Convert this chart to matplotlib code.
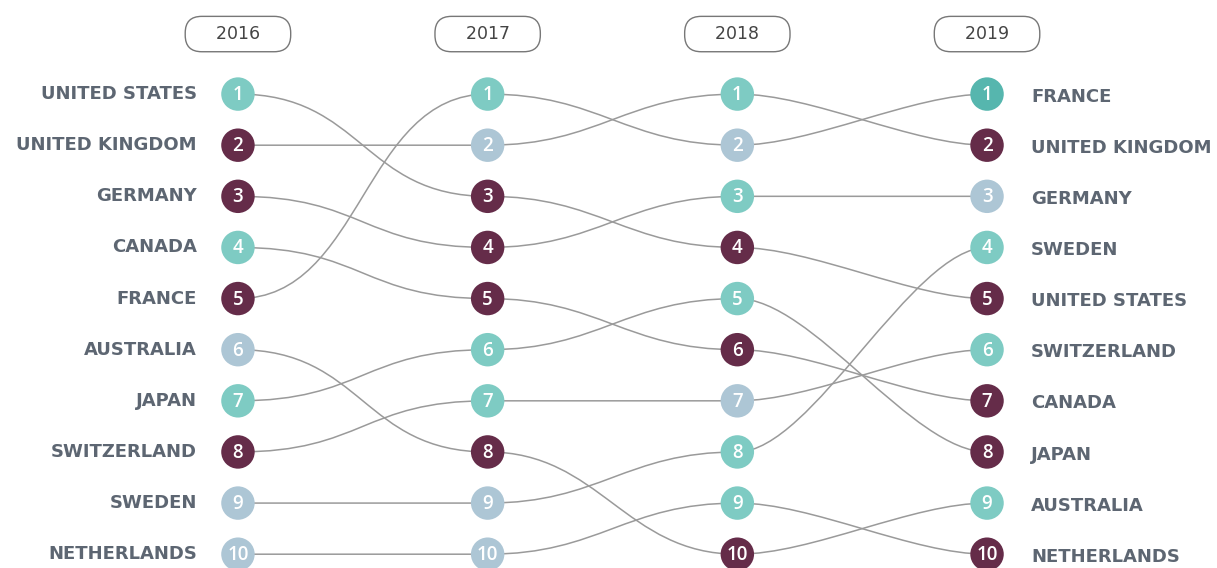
import matplotlib.pyplot as plt
from matplotlib.path import Path
from matplotlib.patches import PathPatch

# -------- DATA --------
years = ["2016", "2017", "2018", "2019"]

rank_2016 = ["UNITED STATES", "UNITED KINGDOM", "GERMANY", "CANADA", "FRANCE",
             "AUSTRALIA", "JAPAN", "SWITZERLAND", "SWEDEN", "NETHERLANDS"]
rank_2017 = ["FRANCE", "UNITED KINGDOM", "UNITED STATES", "GERMANY", "CANADA",
             "JAPAN", "SWITZERLAND", "AUSTRALIA", "SWEDEN", "NETHERLANDS"]
rank_2018 = ["UNITED KINGDOM", "FRANCE", "GERMANY", "UNITED STATES", "JAPAN",
             "CANADA", "SWITZERLAND", "SWEDEN", "NETHERLANDS", "AUSTRALIA"]
rank_2019 = ["FRANCE", "UNITED KINGDOM", "GERMANY", "SWEDEN", "UNITED STATES",
             "SWITZERLAND", "CANADA", "JAPAN", "AUSTRALIA", "NETHERLANDS"]

# status of each circle by rank: u = up, d = down, s = same, t = top
status_2016 = ["u", "d", "d", "u", "d", "s", "u", "d", "s", "s"]
status_2017 = ["u", "s", "d", "d", "d", "u", "u", "d", "s", "s"]
status_2018 = ["u", "s", "u", "d", "u", "d", "s", "u", "u", "d"]
status_2019 = ["t", "d", "s", "u", "d", "u", "d", "d", "u", "d"]

rankings = [rank_2016, rank_2017, rank_2018, rank_2019]
statuses = [status_2016, status_2017, status_2018, status_2019]

colors = {"u": "#7ecbc3", "d": "#652c49", "s": "#adc6d5", "t": "#56b6ae"}
text_grey = "#5d6672"
line_grey = "#9a9a9a"

# -------- FIGURE --------
fig = plt.figure(figsize=(12.17, 5.68), dpi=100)
ax = fig.add_axes([0, 0, 1, 1])
ax.set_xlim(-0.953, 3.921)
ax.set_ylim(10.27, -0.84)
ax.axis("off")

# connecting curves
bend = [0.5, 0.45, 0.3]
for i in range(len(years) - 1):
    for country in rankings[i]:
        y0 = rankings[i].index(country) + 1
        y1 = rankings[i + 1].index(country) + 1
        x0, x1 = i, i + 1
        k = bend[i]
        verts = [(x0, y0), (x0 + k, y0), (x1 - k, y1), (x1, y1)]
        codes = [Path.MOVETO, Path.CURVE4, Path.CURVE4, Path.CURVE4]
        ax.add_patch(PathPatch(Path(verts, codes), fill=False,
                               edgecolor=line_grey, lw=1.1, zorder=1))

# circles and numbers
for i, year in enumerate(years):
    ranks = list(range(1, len(rankings[i]) + 1))
    ax.scatter([i] * len(ranks), ranks, s=580,
               c=[colors[s] for s in statuses[i]], zorder=2, linewidths=0)
    for r in ranks:
        ax.text(i, r + 0.02, str(r), color="white", fontsize=13.5,
                fontweight="semibold", ha="center", va="center",
                family="Open Sans", zorder=3)
    ax.text(i, -0.174, "    " + year + "    ", ha="center", va="center",
            fontsize=12.5, color="#444444", family="DejaVu Sans",
            bbox=dict(boxstyle="round,pad=0.5,rounding_size=0.95",
                      fc="white", ec="#777777", lw=1.0))

# country labels
for r, country in enumerate(rank_2016, start=1):
    ax.text(-0.165, r, country, ha="right", va="center", fontsize=13,
            fontweight="bold", color=text_grey, family="DejaVu Sans")
for r, country in enumerate(rank_2019, start=1):
    ax.text(3.177, r + 0.05, country, ha="left", va="center", fontsize=13,
            fontweight="bold", color=text_grey, family="DejaVu Sans")

fig.savefig("out.png", dpi=100)
